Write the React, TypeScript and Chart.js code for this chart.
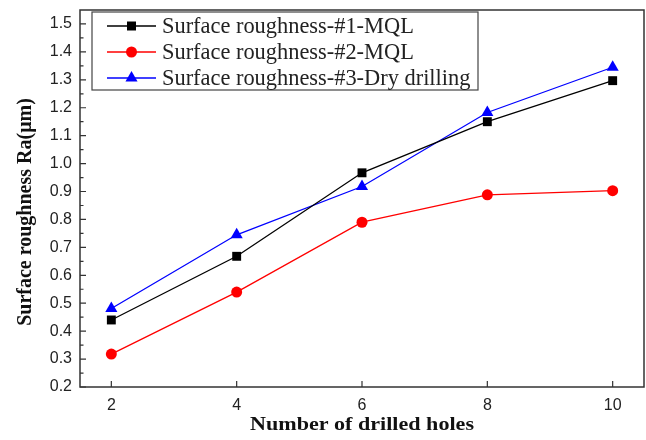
import React, { useEffect, useRef } from "react";
import { Chart, registerables } from "chart.js";

Chart.register(...registerables);

const holes = [2, 4, 6, 8, 10];
const mql1 = [0.44, 0.668, 0.967, 1.15, 1.297];
const mql2 = [0.318, 0.54, 0.79, 0.888, 0.903];
const dry3 = [0.481, 0.745, 0.918, 1.183, 1.345];
const seriesNames = [
  "Surface roughness-#1-MQL",
  "Surface roughness-#2-MQL",
  "Surface roughness-#3-Dry drilling",
];
const xTicks = [2, 4, 6, 8, 10];
const yTicks = [0.2, 0.3, 0.4, 0.5, 0.6, 0.7, 0.8, 0.9, 1.0, 1.1, 1.2, 1.3, 1.4, 1.5];
const yMinorTicks = [0.25, 0.35, 0.45, 0.55, 0.65, 0.75, 0.85, 0.95, 1.05, 1.15, 1.25, 1.35, 1.45];
const xTitle = "Number of drilled holes";
const yTitle = "Surface roughness Ra(μm)";

const colors = ["#000000", "#ff0000", "#0000ff"];
const shapes = ["rect", "circle", "triangle"];

function drawMarker(ctx: CanvasRenderingContext2D, shape: string, x: number, y: number, color: string) {
  ctx.save();
  ctx.fillStyle = color;
  ctx.beginPath();
  if (shape === "rect") {
    ctx.rect(x - 4.5, y - 4.5, 9, 9);
  } else if (shape === "circle") {
    ctx.arc(x, y, 5.5, 0, Math.PI * 2);
  } else {
    const r = 7;
    ctx.moveTo(x, y - r);
    ctx.lineTo(x + r * Math.cos(Math.PI / 6), y + r / 2);
    ctx.lineTo(x - r * Math.cos(Math.PI / 6), y + r / 2);
    ctx.closePath();
  }
  ctx.fill();
  ctx.restore();
}

function fitText(ctx: CanvasRenderingContext2D, text: string, x: number, y: number, width: number) {
  const w = ctx.measureText(text).width;
  const k = width / w;
  ctx.save();
  ctx.translate(x, y);
  ctx.scale(k, 1);
  ctx.fillText(text, 0, 0);
  ctx.restore();
}

const framePlugin = {
  id: "framePlugin",
  afterDraw(chart: any) {
    const { ctx, chartArea } = chart;
    const { left, right, top, bottom } = chartArea;
    const xs = chart.scales.x;
    const ys = chart.scales.y;
    ctx.save();
    // frame
    ctx.strokeStyle = "#333333";
    ctx.lineWidth = 1.5;
    ctx.strokeRect(left, top, right - left, bottom - top);
    // ticks (inward)
    ctx.lineWidth = 1.2;
    ctx.beginPath();
    xTicks.forEach((v) => {
      const px = xs.getPixelForValue(v);
      ctx.moveTo(px, bottom);
      ctx.lineTo(px, bottom - 6);
    });
    yTicks.forEach((v) => {
      const py = ys.getPixelForValue(v);
      ctx.moveTo(left, py);
      ctx.lineTo(left + 6, py);
    });
    yMinorTicks.forEach((v) => {
      const py = ys.getPixelForValue(v);
      ctx.moveTo(left, py);
      ctx.lineTo(left + 3.5, py);
    });
    ctx.stroke();

    // axis titles
    ctx.fillStyle = "#111111";
    ctx.font = "bold 19px 'Liberation Serif', 'Times New Roman', serif";
    ctx.textAlign = "center";
    ctx.textBaseline = "alphabetic";
    fitText(ctx, xTitle, (left + right) / 2, 430, 224);
    ctx.font = "bold 20px 'Liberation Serif', 'Times New Roman', serif";
    ctx.save();
    ctx.translate(31, 212);
    ctx.rotate(-Math.PI / 2);
    ctx.fillText(yTitle, 0, 0);
    ctx.restore();

    // legend
    const lx = 92, ly = 12, lw = 386, lh = 78;
    ctx.fillStyle = "#ffffff";
    ctx.fillRect(lx, ly, lw, lh);
    ctx.strokeStyle = "#444444";
    ctx.lineWidth = 1.2;
    ctx.strokeRect(lx, ly, lw, lh);
    ctx.font = "22.4px 'Liberation Serif', 'Times New Roman', serif";
    ctx.textAlign = "left";
    ctx.textBaseline = "middle";
    seriesNames.forEach((name, i) => {
      const cy = 26 + i * 26;
      ctx.strokeStyle = colors[i];
      ctx.lineWidth = 1.3;
      ctx.beginPath();
      ctx.moveTo(107, cy);
      ctx.lineTo(156, cy);
      ctx.stroke();
      drawMarker(ctx, shapes[i], 131.5, cy, colors[i]);
      ctx.fillStyle = "#222222";
      ctx.fillText(name, 162, cy + 1);
    });
    ctx.restore();
  },
};

export default function App() {
  const canvasRef = useRef<HTMLCanvasElement | null>(null);

  useEffect(() => {
    if (!canvasRef.current) return;
    const mk = (vals: number[]) => holes.map((h, i) => ({ x: h, y: vals[i] }));
    const allSeries = [mql1, mql2, dry3];
    const chart = new Chart(canvasRef.current, {
      type: "line",
      data: {
        datasets: allSeries.map((vals, i) => ({
          label: seriesNames[i],
          data: mk(vals),
          borderColor: colors[i],
          backgroundColor: colors[i],
          borderWidth: 1.3,
          pointStyle: shapes[i] as any,
          pointRadius: i === 0 ? 6.3 : i === 1 ? 5.5 : 7,
          pointBorderWidth: 0,
          tension: 0,
          fill: false,
        })),
      },
      options: {
        animation: false,
        responsive: false,
        maintainAspectRatio: false,
        devicePixelRatio: 1,
        layout: { autoPadding: false, padding: { top: 10, right: 2, left: 0, bottom: 0 } },
        plugins: {
          legend: { display: false },
          tooltip: { enabled: false },
        },
        scales: {
          x: {
            type: "linear",
            min: 1.5,
            max: 10.5,
            afterBuildTicks: (s: any) => {
              s.ticks = xTicks.map((v) => ({ value: v }));
            },
            afterFit: (s: any) => {
              s.height = 53;
              s.paddingLeft = 0;
              s.paddingRight = 0;
            },
            grid: { display: false, drawTicks: false },
            border: { display: false },
            ticks: {
              padding: 9,
              color: "#222222",
              font: { family: "'Liberation Sans', Arial, sans-serif", size: 16 },
              callback: (v: any) => String(v),
            },
          },
          y: {
            type: "linear",
            min: 0.2,
            max: 1.55,
            afterBuildTicks: (s: any) => {
              s.ticks = yTicks.map((v) => ({ value: v }));
            },
            afterFit: (s: any) => {
              s.width = 80;
              s.paddingTop = 0;
              s.paddingBottom = 0;
            },
            grid: { display: false, drawTicks: false },
            border: { display: false },
            ticks: {
              padding: 8,
              color: "#222222",
              font: { family: "'Liberation Sans', Arial, sans-serif", size: 16 },
              callback: (v: any) => Number(v).toFixed(1),
            },
          },
        },
      },
      plugins: [framePlugin],
    });
    return () => chart.destroy();
  }, []);

  return (
    <div style={{ position: "absolute", left: 0, top: 0, width: 646, height: 440, background: "#fff" }}>
      <canvas ref={canvasRef} width={646} height={440} style={{ width: 646, height: 440 }} />
    </div>
  );
}
